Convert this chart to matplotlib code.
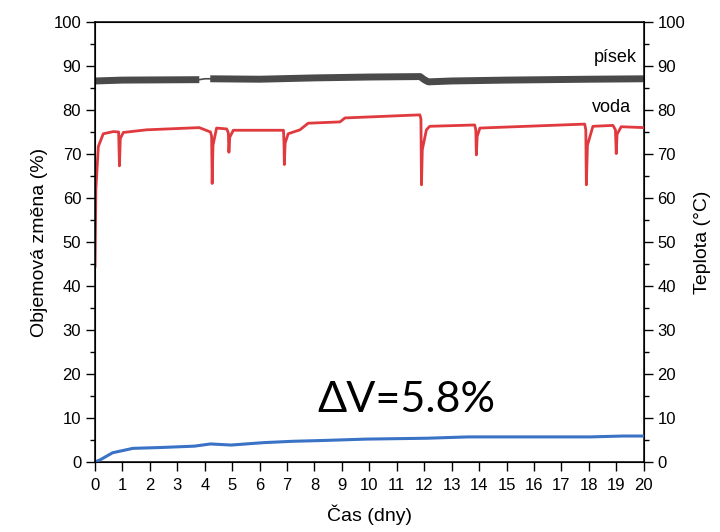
import numpy as np
import matplotlib.pyplot as plt
from matplotlib.ticker import MultipleLocator

# volume change of the water sample (red), days vs %
voda_t = [0.0, 0.03, 0.12, 0.30, 0.67, 0.86, 0.89, 0.92, 1.03, 1.88, 3.80, 4.21, 4.25, 4.27, 4.30,
          4.43, 4.80, 4.86, 4.88, 4.91, 5.04, 6.87, 6.89, 6.90, 6.93, 7.04, 7.47, 7.77, 8.93,
          9.11, 11.84, 11.88, 11.90, 11.93, 12.08, 12.20, 13.84, 13.88, 13.90, 13.93, 14.03,
          17.85, 17.89, 17.91, 17.95, 18.15, 18.88, 18.97, 19.00, 19.03, 19.18, 20.0]
voda_v = [44.5, 62.0, 71.7, 74.6, 75.1, 75.0, 67.3, 73.5, 74.9, 75.5, 76.0, 75.0, 74.0, 63.3, 72.0,
          75.9, 75.7, 74.8, 70.4, 73.8, 75.4, 75.4, 72.0, 67.6, 72.5, 74.6, 75.5, 77.0, 77.3,
          78.2, 78.9, 78.0, 63.0, 71.0, 75.5, 76.3, 76.6, 75.5, 69.8, 74.0, 75.9,
          76.8, 75.5, 63.0, 72.0, 76.3, 76.5, 75.5, 70.1, 74.5, 76.2, 76.0]

# volume change of the sand sample (dark grey band)
pisek_t = [0.0, 1.0, 3.8, 4.0, 4.2, 6.0, 8.0, 10.0, 11.85, 12.0, 12.15, 13.0, 15.0, 18.0, 20.0]
pisek_v = [86.6, 86.8, 86.9, 87.1, 87.1, 87.0, 87.3, 87.5, 87.6, 86.9, 86.4, 86.6, 86.8, 87.0, 87.1]

# volumetric change curve (blue)
dv_t = [0.0, 0.19, 0.64, 0.94, 1.38, 2.43, 3.62, 4.21, 4.96, 6.15, 7.19, 8.38, 9.87,
        12.1, 13.6, 15.8, 18.05, 19.24, 20.0]
dv_v = [0.0, 0.5, 2.1, 2.5, 3.1, 3.3, 3.6, 4.1, 3.85, 4.4, 4.7, 4.9, 5.2,
        5.4, 5.7, 5.7, 5.7, 5.9, 5.9]

days = list(range(0, 21))

plt.rcParams['font.family'] = ['Liberation Sans', 'DejaVu Sans']

fig = plt.figure(figsize=(7.2, 5.32), dpi=100)
ax = fig.add_axes([0.132, 0.1316, 0.762, 0.827])

# sand band is thin where the logger dropped out around day 4
pt = np.array(pisek_t)
pv = np.array(pisek_v)
band = pv.copy()
band[(pt > 3.8) & (pt < 4.2)] = np.nan
ax.plot(pt, pv, color='#4a4a4a', lw=1.2, zorder=2)
ax.plot(pt, band, color='#4a4a4a', lw=5, solid_capstyle='butt', zorder=2)
ax.plot(voda_t, voda_v, color='#e0393e', lw=2.0, zorder=3)
ax.plot(dv_t, dv_v, color='#3a72c6', lw=2.2, zorder=3)

ax.set_xlim(0, 20)
ax.set_ylim(0, 100)
ax.set_xticks(days)
ax.yaxis.set_major_locator(MultipleLocator(10))
ax.yaxis.set_minor_locator(MultipleLocator(5))
ax.tick_params(axis='both', which='major', direction='out', length=6.5, width=1, labelsize=12)
ax.tick_params(axis='y', which='minor', direction='out', length=3.5, width=1)
ax.tick_params(axis='x', pad=5)
for s in ax.spines.values():
    s.set_linewidth(1.1)

ax.set_xlabel('Čas (dny)', fontsize=14, labelpad=8)
ax.set_ylabel('Objemová změna (%)', fontsize=14, labelpad=4)

ax2 = ax.twinx()
ax2.set_ylim(0, 100)
ax2.yaxis.set_major_locator(MultipleLocator(10))
ax2.yaxis.set_minor_locator(MultipleLocator(5))
ax2.tick_params(axis='y', which='major', direction='out', length=6.5, width=1, labelsize=12)
ax2.tick_params(axis='y', which='minor', direction='out', length=3.5, width=1)
ax2.set_ylabel('Teplota (°C)', fontsize=14, labelpad=6)

ax.text(19.75, 92.0, 'písek', fontsize=13, ha='right', va='center')
ax.text(19.55, 80.6, 'voda', fontsize=13, ha='right', va='center')
ax.text(8.1, 14.2, 'ΔV=5.8%', fontsize=31, ha='left', va='center',
        family=['Lato', 'DejaVu Sans'])

fig.savefig('out.png', dpi=100)
